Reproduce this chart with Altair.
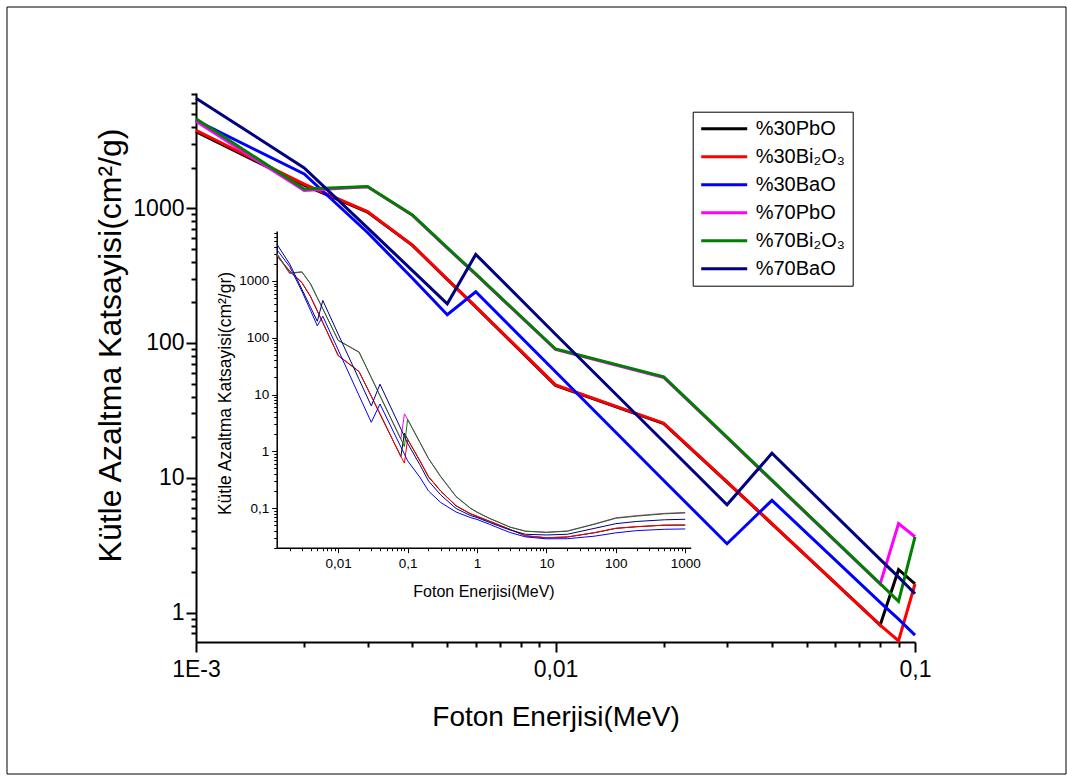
import json
import altair as alt
import pandas as pd

# ---------------- data ----------------
series_names = ["%30PbO", "%30Bi₂O₃", "%30BaO", "%70PbO", "%70Bi₂O₃", "%70BaO"]
series_colors = ["#000000", "#ff0000", "#0000ff", "#ff00ff", "#008000", "#000080"]

# main panel (photon energy in MeV)
energy_main = [0.001, 0.002, 0.003, 0.004, 0.005, 0.006, 0.01, 0.02, 0.03, 0.04, 0.08, 0.09, 0.1]
pbo30_main = [3690, 1480, 935, 530, 296, 185, 48.5, 25.2, 9.3, 4.55, 0.807, 2.08, 1.63]
bi30_main = [3775, 1510, 943, 532, 297, 186, 48.9, 25.4, 9.33, 4.57, 0.807, 0.618, 1.63]
bao30_main = [4480, 1795, 660, 302, 162, 240, 61.1, 9.55, 3.24, 6.8, 1.19, 0.894, 0.68]
pbo70_main = [4420, 1350, 1440, 885, 505, 323, 89.5, 55.5, 19.8, 9.5, 1.63, 4.58, 3.65]
bi70_main = [4613, 1386, 1449, 891, 509, 325, 90.2, 56.0, 20.0, 9.6, 1.64, 1.21, 3.65]
bao70_main = [6540, 1990, 715, 344, 195, 454, 116, 18.5, 6.3, 15.2, 2.48, 1.83, 1.38]

# inset: value at the left edge of the inset axis, then the main points, then the high-energy tail
energy_edge = 0.0013
edge_values = [2800, 2850, 3600, 3000, 3100, 4500]
energy_tail = [0.15, 0.2, 0.3, 0.5, 0.8, 1, 1.5, 2, 3, 5, 10, 20, 50, 100, 200, 500, 1000]
pbo30_tail = [0.68, 0.355, 0.198, 0.109, 0.079, 0.071, 0.0585, 0.051, 0.0418, 0.0324, 0.0299, 0.0308, 0.0368, 0.0438, 0.0468, 0.0498, 0.0501]
bi30_tail = [0.685, 0.36, 0.2, 0.11, 0.08, 0.072, 0.059, 0.0515, 0.042, 0.0325, 0.030, 0.031, 0.037, 0.044, 0.047, 0.050, 0.0503]
bao30_tail = [0.35, 0.20, 0.125, 0.085, 0.068, 0.063, 0.052, 0.045, 0.037, 0.031, 0.0287, 0.0288, 0.032, 0.0365, 0.040, 0.0422, 0.0428]
pbo70_tail = [1.43, 0.74, 0.355, 0.158, 0.099, 0.084, 0.066, 0.057, 0.046, 0.0392, 0.0375, 0.0395, 0.0528, 0.0672, 0.0735, 0.0805, 0.0835]
bi70_tail = [1.45, 0.75, 0.36, 0.16, 0.10, 0.085, 0.066, 0.057, 0.046, 0.039, 0.0372, 0.039, 0.052, 0.066, 0.072, 0.079, 0.0818]
bao70_tail = [0.58, 0.30, 0.17, 0.098, 0.074, 0.068, 0.056, 0.049, 0.041, 0.0345, 0.0335, 0.0345, 0.044, 0.053, 0.058, 0.062, 0.0634]

main_lists = [pbo30_main, bi30_main, bao30_main, pbo70_main, bi70_main, bao70_main]
tail_lists = [pbo30_tail, bi30_tail, bao30_tail, pbo70_tail, bi70_tail, bao70_tail]

rows_main, rows_inset = [], []
for name, mvals, edge, tvals in zip(series_names, main_lists, edge_values, tail_lists):
    for e, v in zip(energy_main, mvals):
        rows_main.append({"series": name, "E": e, "mu": v})
    rows_inset.append({"series": name, "E": energy_edge, "mu": edge})
    for e, v in zip(energy_main[1:], mvals[1:]):
        rows_inset.append({"series": name, "E": e, "mu": v})
    for e, v in zip(energy_tail, tvals):
        rows_inset.append({"series": name, "E": e, "mu": v})
df_main = pd.DataFrame(rows_main)
df_inset = pd.DataFrame(rows_inset)

# ---------------- tick sets ----------------
def decade_minors(lo_exp, hi_exp):
    out = []
    for k in range(lo_exp, hi_exp + 1):
        for m in range(2, 10):
            out.append(float(f"{m}e{k}"))
    return out

main_x_major = [0.001, 0.01, 0.1]
main_x_ticks = sorted(main_x_major + decade_minors(-3, -2))
main_y_major = [1, 10, 100, 1000]
main_y_ticks = sorted(main_y_major + [0.7, 0.8, 0.9] + decade_minors(0, 2) + [2000, 3000, 4000, 5000, 6000, 7000])

ins_x_major = [0.01, 0.1, 1, 10, 100, 1000]
ins_x_ticks = sorted(ins_x_major + decade_minors(-3, 2))
ins_y_major = [0.1, 1, 10, 100, 1000]
ins_y_ticks = sorted(ins_y_major + decade_minors(-2, 2) + [2000, 3000, 4000, 5000, 6000, 7000])


def is_major(majors):
    return "indexof(%s, datum.value) >= 0" % json.dumps(majors)


def comma_label(majors):
    return "%s ? replace(toString(datum.value), '.', ',') : ''" % is_major(majors)


FONT = "Liberation Sans"
common_axis = dict(grid=False, labelOverlap=False, labelFlush=False, labelBound=False,
                   domainColor="black", tickColor="black", labelColor="black",
                   titleColor="black", titleFontWeight="normal", labelFont=FONT, titleFont=FONT,
                   titleAlign="center", titleBaseline="middle")

main_x_axis = alt.Axis(
    values=main_x_ticks,
    labelExpr="datum.value == 0.001 ? '1E-3' : datum.value == 0.01 ? '0,01' : datum.value == 0.1 ? '0,1' : ''",
    tickSize={"condition": {"test": is_major(main_x_major), "value": 10}, "value": 5},
    tickWidth=2, domainWidth=2, labelFontSize=23, labelPadding=6,
    title="Foton Enerjisi(MeV)", titleFontSize=28, titleX=359.5, titleY=75, titleAngle=0,
    orient="bottom", **common_axis)

main_y_axis = alt.Axis(
    values=main_y_ticks,
    labelExpr=comma_label(main_y_major),
    tickSize={"condition": {"test": is_major(main_y_major), "value": 10}, "value": 5},
    tickWidth=2, domainWidth=2, labelFontSize=23, labelPadding=2,
    title="Kütle Azaltma Katsayisi(cm²/g)", titleFontSize=32, titleX=-86, titleY=252, titleAngle=270,
    orient="left", **common_axis)

inset_x_axis = alt.Axis(
    values=ins_x_ticks,
    labelExpr=comma_label(ins_x_major),
    tickSize={"condition": {"test": is_major(ins_x_major), "value": 5}, "value": 3},
    tickWidth=1, domainWidth=1.5, labelFontSize=13.5, labelPadding=4,
    title="Foton Enerjisi(MeV)", titleFontSize=16, titleX=287.5, titleY=44, titleAngle=0,
    orient="bottom", offset=-94.3, **common_axis)

inset_y_axis = alt.Axis(
    values=ins_y_ticks,
    labelExpr=comma_label(ins_y_major),
    tickSize={"condition": {"test": is_major(ins_y_major), "value": 5}, "value": 3},
    tickWidth=1, domainWidth=1.5, labelFontSize=13.5, labelPadding=3,
    title="Kütle Azaltma Katsayisi(cm²/gr)", titleFontSize=17.5, titleX=-51, titleY=300, titleAngle=270,
    orient="left", offset=-80.7, **common_axis)

legend = alt.Legend(
    title=None, orient="none", legendX=496.7, legendY=18.7,
    symbolType="stroke", symbolSize=2116, symbolStrokeWidth=3,
    labelFontSize=20, labelFont=FONT, labelColor="black", labelOffset=7,
    strokeColor="black", fillColor="white", padding=7, rowPadding=8, clipHeight=20,
    labelLimit=0)

color = alt.Color("series:N", scale=alt.Scale(domain=series_names, range=series_colors), legend=legend)

main = alt.Chart(df_main).mark_line(strokeWidth=3, clip=False).encode(
    x=alt.X("E:Q", scale=alt.Scale(type="log", domain=[0.001, 0.1], nice=False), axis=main_x_axis),
    y=alt.Y("mu:Q", scale=alt.Scale(type="log", domain=[0.605, 7150], nice=False), axis=main_y_axis),
    color=color,
)

inset = alt.Chart(df_inset).mark_line(strokeWidth=1, clip=False).encode(
    x=alt.X("E:Q", scale=alt.Scale(type="log", domain=[energy_edge, 1200], nice=False, range=[80.7, 494.7]),
            axis=inset_x_axis),
    y=alt.Y("mu:Q", scale=alt.Scale(type="log", domain=[0.02, 7600], nice=False, range=[454.7, 138]),
            axis=inset_y_axis),
    color=color,
)

frame = alt.Chart(pd.DataFrame({"k": [0]})).mark_rect(
    fillOpacity=0, stroke="black", strokeWidth=1
).encode(x=alt.value(-189), x2=alt.value(870), y=alt.value(-86), y2=alt.value(681))

chart = alt.layer(main, inset, frame).resolve_scale(
    x="independent", y="independent"
).properties(
    width=719, height=549,
    padding={"left": 196, "top": 93, "right": 152, "bottom": 134},
    autosize="none",
    background="white",
).configure(font=FONT).configure_view(stroke="transparent", strokeWidth=0)

chart.save("out.html", embed_options={"renderer": "svg", "actions": False})
